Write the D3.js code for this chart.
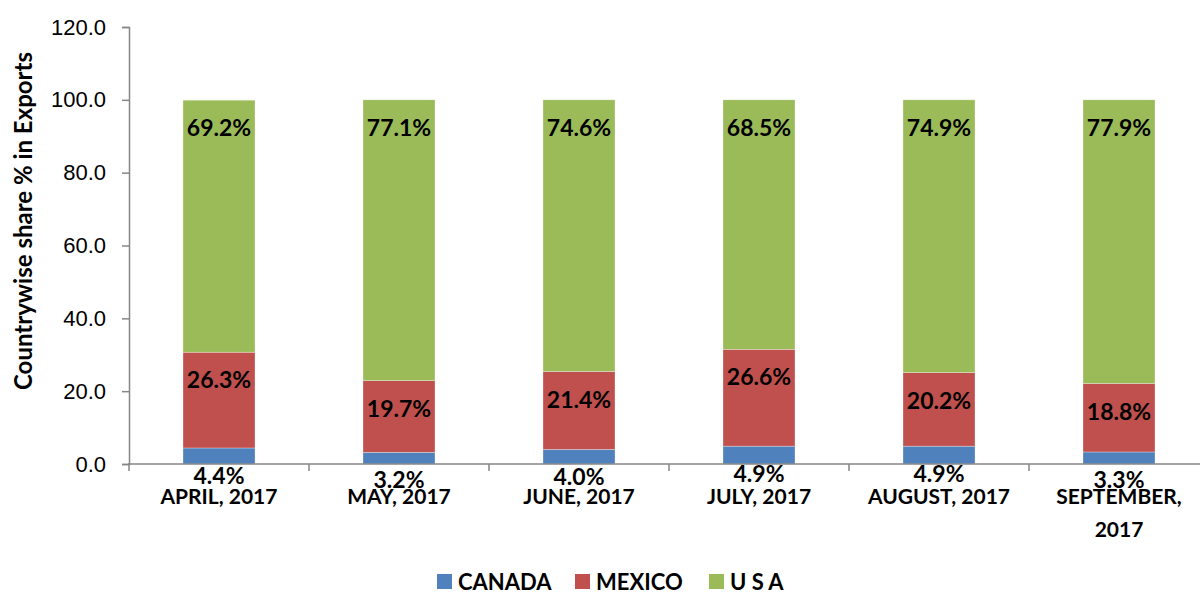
<!DOCTYPE html>
<html>
<head>
<meta charset="utf-8">
<script src="https://cdn.jsdelivr.net/npm/d3@7"></script>
<style>
  body { margin: 0; background: #fff; }
  svg { display: block; font-family: Lato, "Open Sans", sans-serif; }
</style>
</head>
<body>
<div id="chart"></div>
<script>
// data
var months = ['APRIL, 2017', 'MAY, 2017', 'JUNE, 2017', 'JULY, 2017', 'AUGUST, 2017', 'SEPTEMBER, 2017'];
var canada = [4.4, 3.2, 4.0, 4.9, 4.9, 3.3];
var mexico = [26.3, 19.7, 21.4, 26.6, 20.2, 18.8];
var usa = [69.2, 77.1, 74.6, 68.5, 74.9, 77.9];
var seriesNames = ['CANADA', 'MEXICO', 'U S A'];
var colors = ['#4F81BD', '#C0504D', '#9BBB59'];
var yTicks = [0, 20, 40, 60, 80, 100, 120];

var width = 1200, height = 592;
var margin = {top: 27, right: -9, bottom: 128, left: 129};

var rows = months.map(function(m, i) {
  return {month: m, CANADA: canada[i], MEXICO: mexico[i], 'U S A': usa[i]};
});
var stacked = d3.stack().keys(seriesNames)(rows);

var svg = d3.select('#chart').append('svg')
    .attr('width', width)
    .attr('height', height);

var x = d3.scaleBand()
    .domain(months)
    .range([margin.left, width - margin.right])
    .paddingInner(0.6)
    .paddingOuter(0.3);

var y = d3.scaleLinear()
    .domain([0, 120])
    .range([height - margin.bottom, margin.top]);

// y axis
var yAxis = svg.append('g')
    .attr('transform', 'translate(' + margin.left + ',0)')
    .call(d3.axisLeft(y).tickValues(yTicks).tickFormat(d3.format('.1f')).tickSizeOuter(0).tickSize(7));
yAxis.select('.domain').attr('stroke', '#868686').attr('stroke-width', 1.5);
yAxis.selectAll('.tick line').attr('stroke', '#868686').attr('stroke-width', 1.5);
yAxis.selectAll('.tick text')
    .attr('x', -23)
    .attr('fill', '#000')
    .style('font-size', '22px');

// bars
var layer = svg.selectAll('g.layer')
    .data(stacked)
  .enter().append('g')
    .attr('class', 'layer')
    .attr('fill', function(d, i) { return colors[i]; });

layer.selectAll('rect')
    .data(function(d) { return d; })
  .enter().append('rect')
    .attr('x', function(d) { return x(d.data.month); })
    .attr('y', function(d) { return y(d[1]); })
    .attr('width', x.bandwidth())
    .attr('height', function(d) { return y(d[0]) - y(d[1]); })
    .attr('stroke', '#fff')
    .attr('stroke-opacity', 0.5)
    .attr('stroke-width', 0.6);

// labels, inside end of each segment
layer.selectAll('text')
    .data(function(d) { return d.map(function(p) { p.key = d.key; return p; }); })
  .enter().append('text')
    .attr('x', function(d) { return x(d.data.month) + x.bandwidth() / 2; })
    .attr('y', function(d) { return y(d[1]) + 28; })
    .attr('dy', '0.35em')
    .attr('text-anchor', 'middle')
    .attr('fill', '#000')
    .style('font-size', '23px')
    .style('font-weight', 'bold')
    .text(function(d) { return d.data[d.key].toFixed(1) + '%'; });

// x axis
var xAxis = svg.append('g')
    .attr('transform', 'translate(0,' + y(0) + ')');
xAxis.append('line')
    .attr('x1', margin.left - 1).attr('x2', width)
    .attr('stroke', '#868686').attr('stroke-width', 1.5);
xAxis.selectAll('line.tick')
    .data(d3.range(months.length + 1))
  .enter().append('line')
    .attr('class', 'tick')
    .attr('x1', function(i) { return margin.left + i * x.step(); })
    .attr('x2', function(i) { return margin.left + i * x.step(); })
    .attr('y1', 0).attr('y2', 7)
    .attr('stroke', '#868686').attr('stroke-width', 1.5);

var xLabels = xAxis.selectAll('text')
    .data(months)
  .enter().append('text')
    .attr('x', function(d) { return x(d) + x.bandwidth() / 2; })
    .attr('y', 40)
    .attr('text-anchor', 'middle')
    .attr('fill', '#000')
    .style('font-size', '21px')
    .style('font-weight', 'bold');
xLabels.each(function(d) {
  var t = d3.select(this);
  var parts = d === 'SEPTEMBER, 2017' ? ['SEPTEMBER,', '2017'] : [d];
  parts.forEach(function(p, k) {
    t.append('tspan')
      .attr('x', x(d) + x.bandwidth() / 2)
      .attr('dy', k === 0 ? 0 : 33)
      .text(p);
  });
});

// y axis title
svg.append('text')
    .attr('transform', 'translate(32,221) rotate(-90)')
    .attr('text-anchor', 'middle')
    .attr('fill', '#000')
    .style('font-size', '24px')
    .style('font-weight', 'bold')
    .text('Countrywise share % in Exports');

// legend
var legendX = [437, 575, 709];
var legend = svg.selectAll('g.legend')
    .data(seriesNames)
  .enter().append('g')
    .attr('class', 'legend')
    .attr('transform', function(d, i) { return 'translate(' + legendX[i] + ',574)'; });
legend.append('rect')
    .attr('width', 15).attr('height', 15)
    .attr('fill', function(d, i) { return colors[i]; });
legend.append('text')
    .attr('x', 21)
    .attr('y', 16)
    .attr('fill', '#000')
    .style('font-size', '22px')
    .style('font-weight', 'bold')
    .text(function(d) { return d; });
</script>
</body>
</html>
